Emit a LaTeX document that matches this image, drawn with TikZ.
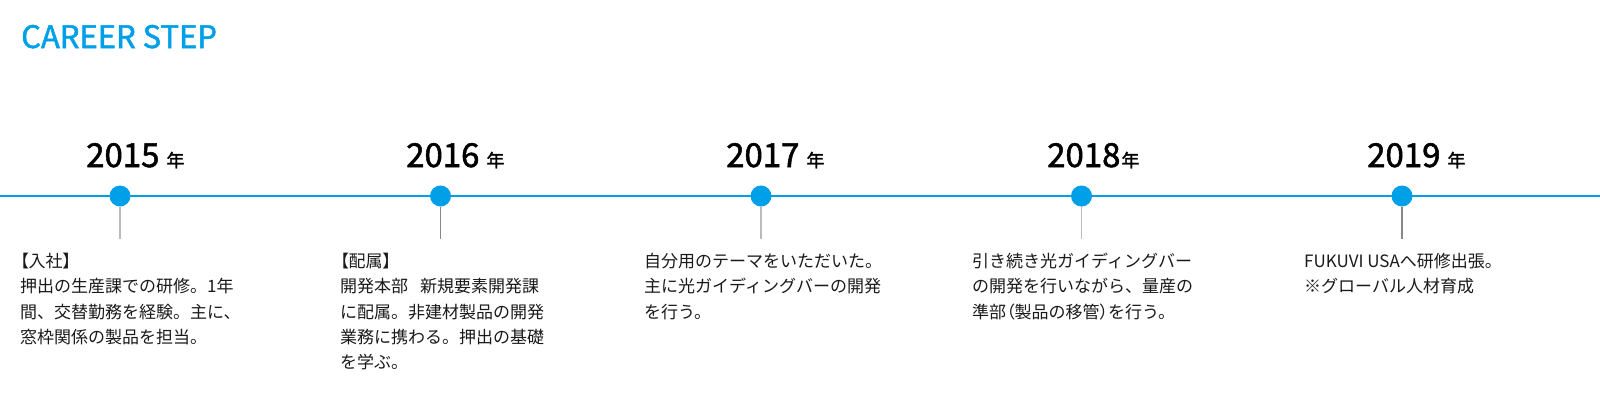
\documentclass[tikz,border=0pt]{standalone}
\usepackage{fontspec}
\setmainfont{Noto Sans CJK JP}
\newfontfamily\jpfont{Noto Sans CJK JP}
\newfontfamily\medfont{Noto Sans CJK JP}[RawFeature={embolden=1.6}]
\newfontfamily\paltfont{Noto Sans CJK JP}[RawFeature=+palt]
\definecolor{tlblue}{HTML}{00A0E9}
\definecolor{bodytext}{HTML}{1A1A1A}
\definecolor{lightgray}{HTML}{BBBBBB}
\definecolor{midgray}{HTML}{888888}
\tikzset{
  yearlabel/.style={anchor=base west, inner sep=0pt, text=black, font=\medfont\fontsize{33}{33}\selectfont},
  bodyblock/.style={anchor=north west, inner sep=0pt, align=left, text=bodytext, font=\jpfont\fontsize{17}{25.3}\selectfont},
  dotnode/.style={circle, fill=tlblue, draw=none, minimum size=21pt, inner sep=0pt},
  stem/.style={line width=1.5pt, draw=#1},
  timeline/.style={line width=2.2pt, draw=tlblue},
  titlelabel/.style={anchor=base west, inner sep=0pt, text=tlblue, font=\medfont\fontsize{31}{31}\selectfont}
}
\newcommand{\nen}{{\fontsize{18}{18}\selectfont 年}}
\newcommand{\pp}[1]{{\paltfont #1}}
\begin{document}
\begin{tikzpicture}[x=1pt,y=-1pt]
\useasboundingbox[fill=white] (0,0) rectangle (1600,400);
\node[titlelabel] (title) at (21,48) {CAREER STEP};
\coordinate (L) at (0,196);
\coordinate (R) at (1600,196);
\draw[timeline] (L) -- (R);
% stem end points
\coordinate (e1) at (120,239);
\coordinate (e2) at (440.5,239);
\coordinate (e3) at (761,239);
\coordinate (e4) at (1081.5,239);
\coordinate (e5) at (1402,239);
\node[dotnode] (d1) at (120,196) {};
\node[dotnode] (d2) at (440.5,196) {};
\node[dotnode] (d3) at (761,196) {};
\node[dotnode] (d4) at (1081.5,196) {};
\node[dotnode] (d5) at (1402,196) {};
\draw[stem=lightgray] (d1.south) -- (e1);
\draw[stem=midgray] (d2.south) -- (e2);
\draw[stem=lightgray] (d3.south) -- (e3);
\draw[stem=lightgray] (d4.south) -- (e4);
\draw[stem=midgray] (d5.south) -- (e5);
% years
\node[yearlabel] (y1) at (86,167) {2015\hspace{7pt}\nen};
\node[yearlabel] (y2) at (406,167) {2016\hspace{7pt}\nen};
\node[yearlabel] (y3) at (726,167) {2017\hspace{7pt}\nen};
\node[yearlabel] (y4) at (1047,167) {2018\hspace{1pt}\nen};
\node[yearlabel] (y5) at (1367,167) {2019\hspace{7pt}\nen};
% bodies
\node[bodyblock] (b1) at (20,253) {\pp{【}入社\pp{】}\\押出の生産課での研修。1年\\間、交替勤務を経験。主に、\\窓枠関係の製品を担当。};
\node[bodyblock] (b2) at (340,253) {\pp{【}配属\pp{】}\\開発本部\hspace{12pt}新規要素開発課\\に配属。非建材製品の開発\\業務に携わる。押出の基礎\\を学ぶ。};
\node[bodyblock] (b3) at (644,253) {自分用のテーマをいただいた。\\主に光ガイディングバーの開発\\を行う。};
\node[bodyblock] (b4) at (972,253) {引き続き光ガイディングバー\\の開発を行いながら、量産の\\準部\pp{（}製品の移管\pp{）}を行う。};
\node[bodyblock] (b5) at (1304,253) {FUKUVI USAへ研修出張。\\※グローバル人材育成};
\end{tikzpicture}
\end{document}
